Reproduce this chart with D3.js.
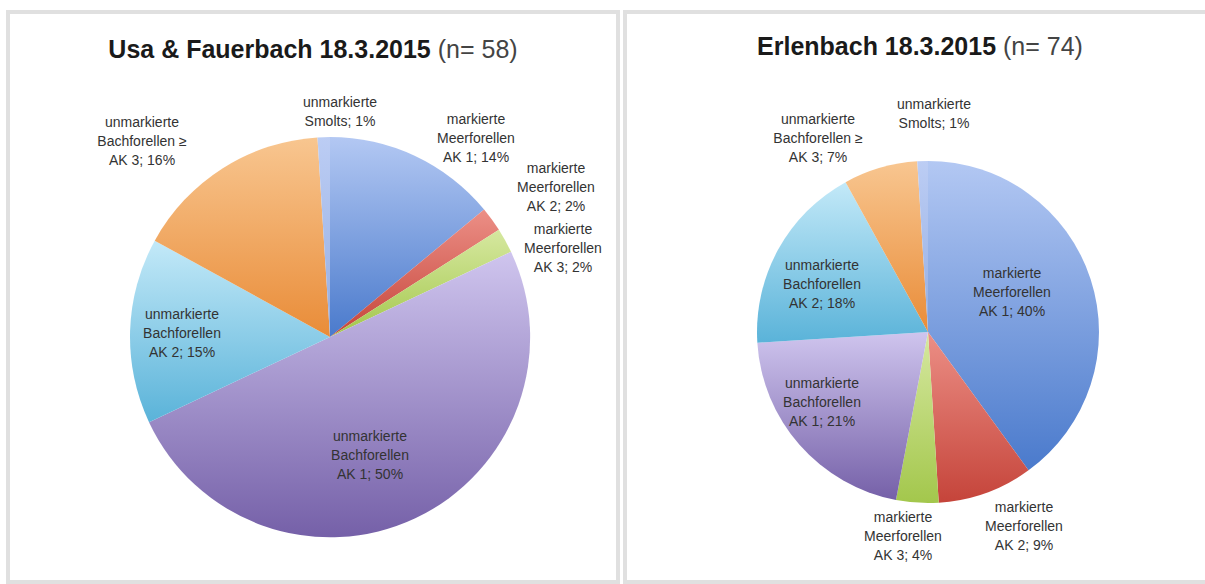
<!DOCTYPE html>
<html>
<head>
<meta charset="utf-8">
<script src="https://cdn.jsdelivr.net/npm/d3@7"></script>
<style>
  body { margin: 0; background: #fff; }
  text { font-family: "Liberation Sans", Arial, sans-serif; }
</style>
</head>
<body>
<svg id="canvas"></svg>
<script>
var w = 1205;
var h = 584;

// slice order is clockwise from 12 o'clock
var categories = [
  ['markierte', 'Meerforellen', 'AK 1'],
  ['markierte', 'Meerforellen', 'AK 2'],
  ['markierte', 'Meerforellen', 'AK 3'],
  ['unmarkierte', 'Bachforellen', 'AK 1'],
  ['unmarkierte', 'Bachforellen', 'AK 2'],
  ['unmarkierte', 'Bachforellen ≥', 'AK 3'],
  ['unmarkierte', 'Smolts']
]
var usaValues = [14, 2, 2, 50, 15, 16, 1]
var erlenValues = [40, 9, 4, 21, 18, 7, 1]
var titles = [['Usa & Fauerbach 18.3.2015', ' (n= 58)'], ['Erlenbach 18.3.2015', ' (n= 74)']]

// gradient top / bottom per slice
var colours = [
  ['#b3c8f3', '#4a7acc'],
  ['#ec8f86', '#c5443a'],
  ['#d6e8a0', '#a3c74c'],
  ['#cfc5ee', '#7560a8'],
  ['#c3e9f8', '#5ab3d9'],
  ['#f8c690', '#e98c38'],
  ['#bccdf4', '#95aee2']
]

// label anchor (middle line) relative to the pie centre
var usaLabelPos = [[146, -199], [226, -150], [233, -89], [40, 118], [-148, -4], [-188, -196], [10, -226]]
var erlenLabelPos = [[84, -40], [96, 194], [-25, 204], [-106, 70], [-106, -48], [-110, -194], [6, -219]]

var panels = [
  {x: 8, y: 12, w: 610, h: 570, cx: 330, cy: 337, r: 200, tx: 313, ty: 58, vals: usaValues, pos: usaLabelPos},
  {x: 625, y: 12, w: 590, h: 570, cx: 928, cy: 332, r: 171, tx: 920, ty: 55, vals: erlenValues, pos: erlenLabelPos}
]

var svg = d3.select('#canvas')
  .attr('width', w)
  .attr('height', h)
  .attr('viewBox', [0, 0, w, h]);

var defs = svg.append('defs')
colours.forEach(function(c, i){
  var g = defs.append('linearGradient')
    .attr('id', 'grad' + i)
    .attr('x1', 0).attr('y1', 0).attr('x2', 0).attr('y2', 1)
  g.append('stop').attr('offset', '0%').attr('stop-color', c[0])
  g.append('stop').attr('offset', '100%').attr('stop-color', c[1])
})

var pie = d3.pie().sort(null).value(d => d)

panels.forEach(function(p, pi){
  svg.append('rect')
    .attr('x', p.x).attr('y', p.y)
    .attr('width', p.w).attr('height', p.h)
    .style('fill', '#fff')
    .style('stroke', '#e0e0e0')
    .style('stroke-width', 4)

  var t = svg.append('text')
    .attr('x', p.tx).attr('y', p.ty)
    .attr('text-anchor', 'middle')
    .style('font-size', '25px')
    .style('fill', '#1a1a1a')
  t.append('tspan').style('font-weight', 'bold').text(titles[pi][0])
  t.append('tspan').style('fill', '#444').text(titles[pi][1])

  var arc = d3.arc().innerRadius(0).outerRadius(p.r)
  var g = svg.append('g').attr('transform', 'translate(' + p.cx + ',' + p.cy + ')')
  g.selectAll('.slice')
    .data(pie(p.vals))
    .enter()
    .append('path')
    .attr('class', 'slice')
    .attr('d', arc)
    .style('fill', (d, i) => 'url(#grad' + i + ')')

  var labels = g.selectAll('.lab')
    .data(p.vals)
    .enter()
    .append('text')
    .attr('class', 'lab')
    .attr('text-anchor', 'middle')
    .attr('transform', (d, i) => 'translate(' + p.pos[i][0] + ',' + p.pos[i][1] + ')')
    .style('font-size', '14px')
    .style('fill', '#333')
  labels.each(function(d, i){
    var lines = categories[i].slice()
    lines[lines.length - 1] = lines[lines.length - 1] + '; ' + d + '%'
    var n = lines.length
    var first = n == 3 ? -19 : -9
    d3.select(this).selectAll('tspan')
      .data(lines)
      .enter()
      .append('tspan')
      .attr('x', 0)
      .attr('y', (l, j) => first + j * 19 + 5)
      .text(l => l)
  })
})
</script>
</body>
</html>
